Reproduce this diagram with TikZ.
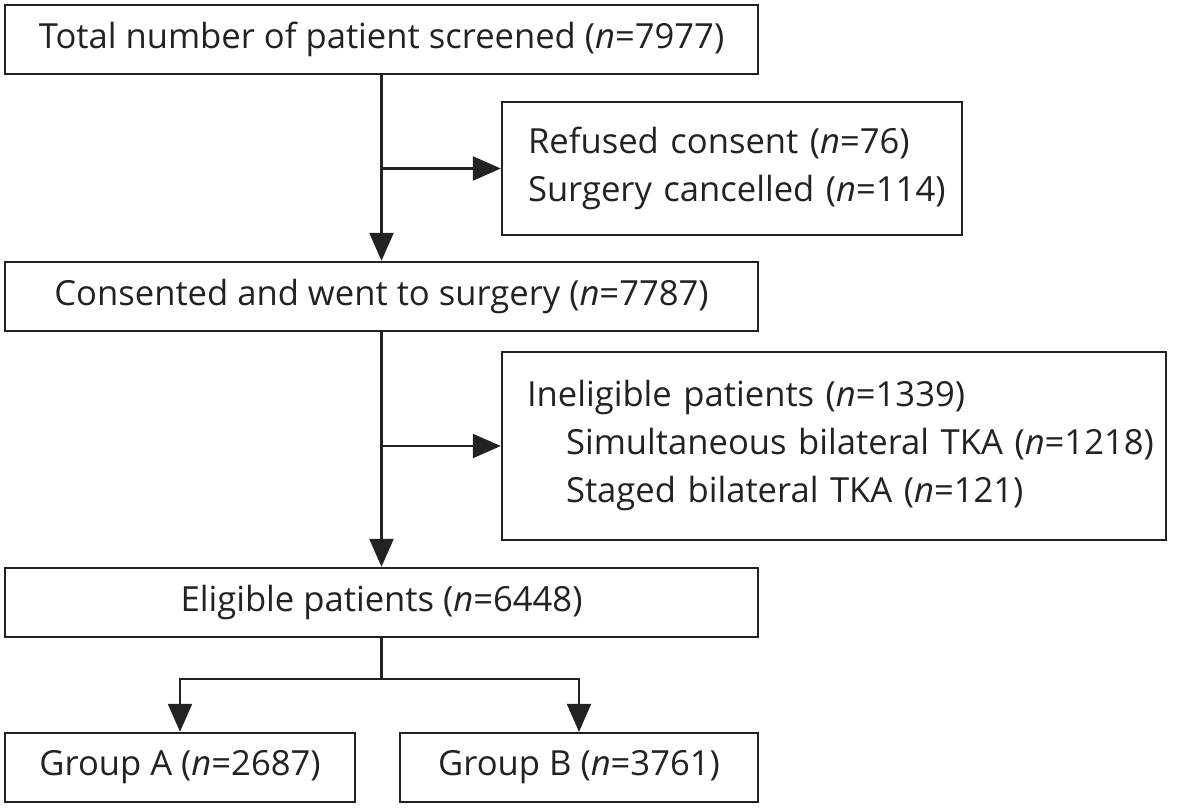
\documentclass[tikz,border=0pt]{standalone}
\usepackage{fontspec}
\setmainfont{Open Sans}
\usetikzlibrary{arrows.meta,positioning,calc}
\definecolor{ink}{HTML}{222222}
\tikzset{
  box/.style={draw=ink,line width=2.4pt,rectangle,inner sep=0pt,font=\fontsize{34.6}{48}\selectfont,text=ink},
  conn/.style={draw=ink,line width=2.4pt},
  arr/.style={conn,-{Triangle[length=28pt,width=24pt]}},
}
\begin{document}
\begin{tikzpicture}[x=1pt,y=-1pt]
\useasboundingbox (0,0) rectangle (1181,808);
\node[box,minimum width=753pt,minimum height=69pt] (b1) at (381.5,39.5) {Total number of patient screened (\textit{n}=7977)};
\node[box,minimum width=460pt,minimum height=133pt,text width=408pt,inner xsep=26pt,align=left] (b2) at (732,168.5) {\mbox{Refused consent (\textit{n}=76)}\\\mbox{Surgery cancelled (\textit{n}=114)}};
\node[box,minimum width=753pt,minimum height=69pt] (b3) at (381.5,296.5) {Consented and went to surgery (\textit{n}=7787)};
\node[box,minimum width=664pt,minimum height=188pt,text width=614pt,inner xsep=25pt,align=left] (b4) at (834,446) {\mbox{Ineligible patients (\textit{n}=1339)}\\\mbox{\hspace*{39pt}Simultaneous bilateral TKA (\textit{n}=1218)}\\\mbox{\hspace*{39pt}Staged bilateral TKA (\textit{n}=121)}};
\node[box,minimum width=753pt,minimum height=69pt] (b5) at (381.5,602.5) {Eligible patients (\textit{n}=6448)};
\node[box,minimum width=350pt,minimum height=69pt] (ga) at (180,767.5) {Group A (\textit{n}=2687)};
\node[box,minimum width=358pt,minimum height=69pt] (gb) at (579,767.5) {Group B (\textit{n}=3761)};
\coordinate (s1) at (b1.south |- b2.west);
\coordinate (s2) at (b3.south |- b4.west);
\coordinate (s3) at ($(b5.south)+(0,41)$);
\coordinate (la) at (ga.north |- s3);
\coordinate (lb) at (gb.north |- s3);
\draw[arr] (b1.south) -- (b3.north);
\draw[arr] (s1) -- (b2.west);
\draw[arr] (b3.south) -- (b5.north);
\draw[arr] (s2) -- (b4.west);
\draw[conn] (b5.south) -- (s3);
\draw[conn,line cap=rect] (la) -- (lb);
\draw[arr] (la) -- (ga.north);
\draw[arr] (lb) -- (gb.north);
\end{tikzpicture}
\end{document}
